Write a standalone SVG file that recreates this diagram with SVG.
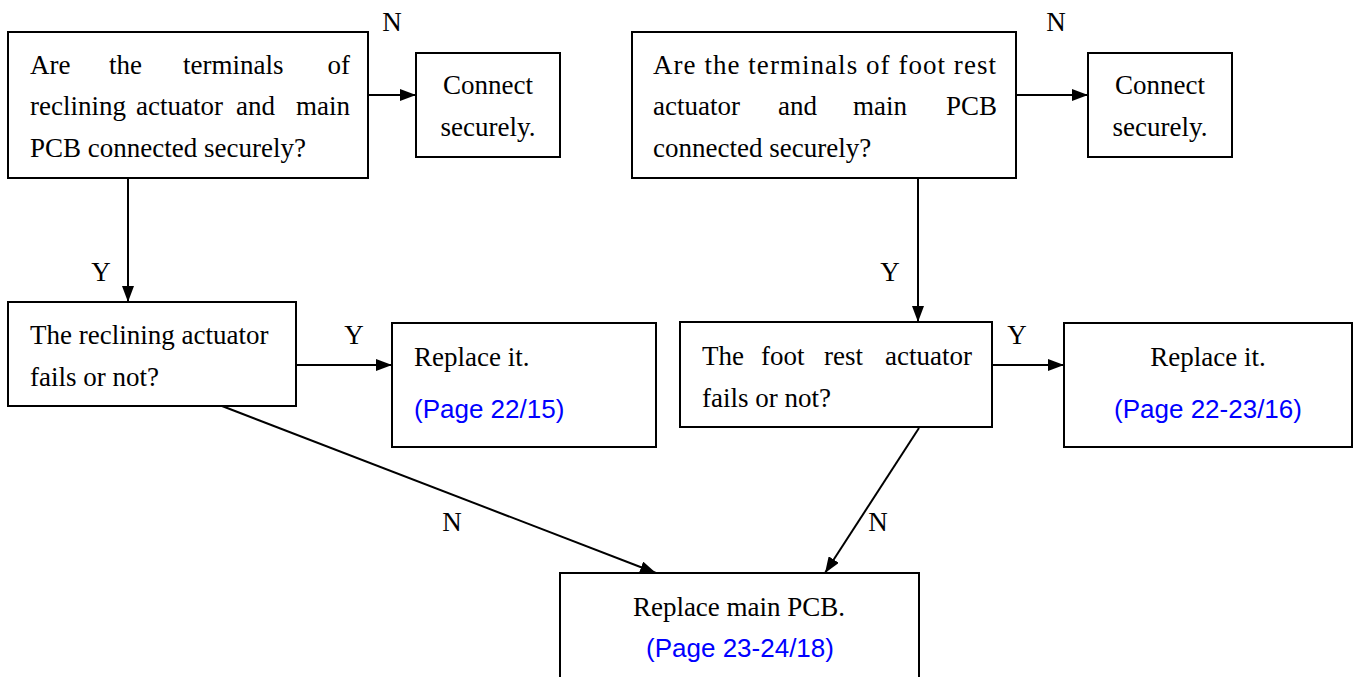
<svg xmlns="http://www.w3.org/2000/svg" width="1359" height="677" viewBox="0 0 1359 677">
<defs>
<marker id="ah" markerWidth="16" markerHeight="12" refX="16" refY="6" orient="auto" markerUnits="userSpaceOnUse">
<path d="M0,0 L16,6 L0,12 Z" fill="#000"/>
</marker>
<style>
.box{fill:#fff;stroke:#000;stroke-width:2}
.t{font-family:"Liberation Serif","Times New Roman",serif;font-size:27px;fill:#000}
.b{font-family:"Liberation Sans",Arial,sans-serif;font-size:26px;fill:#0000ff}
.m{text-anchor:middle}
.e{text-anchor:end}
.c{fill:none;stroke:#000;stroke-width:2}
</style>
</defs>
<rect width="1359" height="677" fill="#fff"/>
<g id="connectors">
<line class="c" x1="368" y1="95" x2="416" y2="95" marker-end="url(#ah)"/>
<line class="c" x1="1016" y1="95" x2="1088" y2="95" marker-end="url(#ah)"/>
<line class="c" x1="128" y1="178" x2="128" y2="302" marker-end="url(#ah)"/>
<line class="c" x1="918" y1="178" x2="918" y2="322" marker-end="url(#ah)"/>
<line class="c" x1="296" y1="365" x2="392" y2="365" marker-end="url(#ah)"/>
<line class="c" x1="992" y1="365" x2="1064" y2="365" marker-end="url(#ah)"/>
<line class="c" x1="222" y1="406" x2="656" y2="573" marker-end="url(#ah)"/>
<line class="c" x1="919" y1="428" x2="825" y2="573" marker-end="url(#ah)"/>
<text class="t m" x="392" y="31">N</text>
<text class="t m" x="1056" y="31">N</text>
<text class="t m" x="101" y="281">Y</text>
<text class="t m" x="890" y="281">Y</text>
<text class="t m" x="354" y="344">Y</text>
<text class="t m" x="1017" y="344">Y</text>
<text class="t m" x="452" y="531">N</text>
<text class="t m" x="878" y="531">N</text>
</g>
<g id="q1">
<rect class="box" x="8" y="32" width="360" height="146"/>
<text class="t" x="30" y="74">Are</text>
<text class="t" x="109" y="74">the</text>
<text class="t" x="183" y="74">terminals</text>
<text class="t e" x="350" y="74">of</text>
<text class="t" x="30" y="115">reclining</text>
<text class="t" x="136" y="115">actuator</text>
<text class="t" x="236" y="115">and</text>
<text class="t e" x="350" y="115">main</text>
<text class="t" x="30" y="157">PCB connected securely?</text>
</g>
<g id="connect1">
<rect class="box" x="416" y="53" width="144" height="104"/>
<text class="t m" x="488" y="94">Connect</text>
<text class="t m" x="488" y="136">securely.</text>
</g>
<g id="q2">
<rect class="box" x="632" y="32" width="384" height="146"/>
<text class="t" x="653" y="74" textLength="343" lengthAdjust="spacing">Are the terminals of foot rest</text>
<text class="t" x="653" y="115">actuator</text>
<text class="t" x="778" y="115">and</text>
<text class="t" x="853" y="115">main</text>
<text class="t e" x="997" y="115">PCB</text>
<text class="t" x="653" y="157">connected securely?</text>
</g>
<g id="connect2">
<rect class="box" x="1088" y="53" width="144" height="104"/>
<text class="t m" x="1160" y="94">Connect</text>
<text class="t m" x="1160" y="136">securely.</text>
</g>
<g id="q3">
<rect class="box" x="8" y="302" width="288" height="104"/>
<text class="t" x="30" y="344">The reclining actuator</text>
<text class="t" x="30" y="386">fails or not?</text>
</g>
<g id="replace1">
<rect class="box" x="392" y="323" width="264" height="124"/>
<text class="t" x="414" y="366">Replace it.</text>
<text class="b" x="414" y="418">(Page 22/15)</text>
</g>
<g id="q4">
<rect class="box" x="680" y="322" width="312" height="105"/>
<text class="t" x="702" y="365">The</text>
<text class="t" x="761" y="365">foot</text>
<text class="t" x="824" y="365">rest</text>
<text class="t e" x="972" y="365">actuator</text>
<text class="t" x="702" y="407">fails or not?</text>
</g>
<g id="replace2">
<rect class="box" x="1064" y="323" width="288" height="124"/>
<text class="t m" x="1208" y="366">Replace it.</text>
<text class="b m" x="1208" y="418">(Page 22-23/16)</text>
</g>
<g id="replacepcb">
<rect class="box" x="560" y="573" width="359" height="108"/>
<text class="t m" x="739" y="616">Replace main PCB.</text>
<text class="b m" x="740" y="657">(Page 23-24/18)</text>
</g>
</svg>
